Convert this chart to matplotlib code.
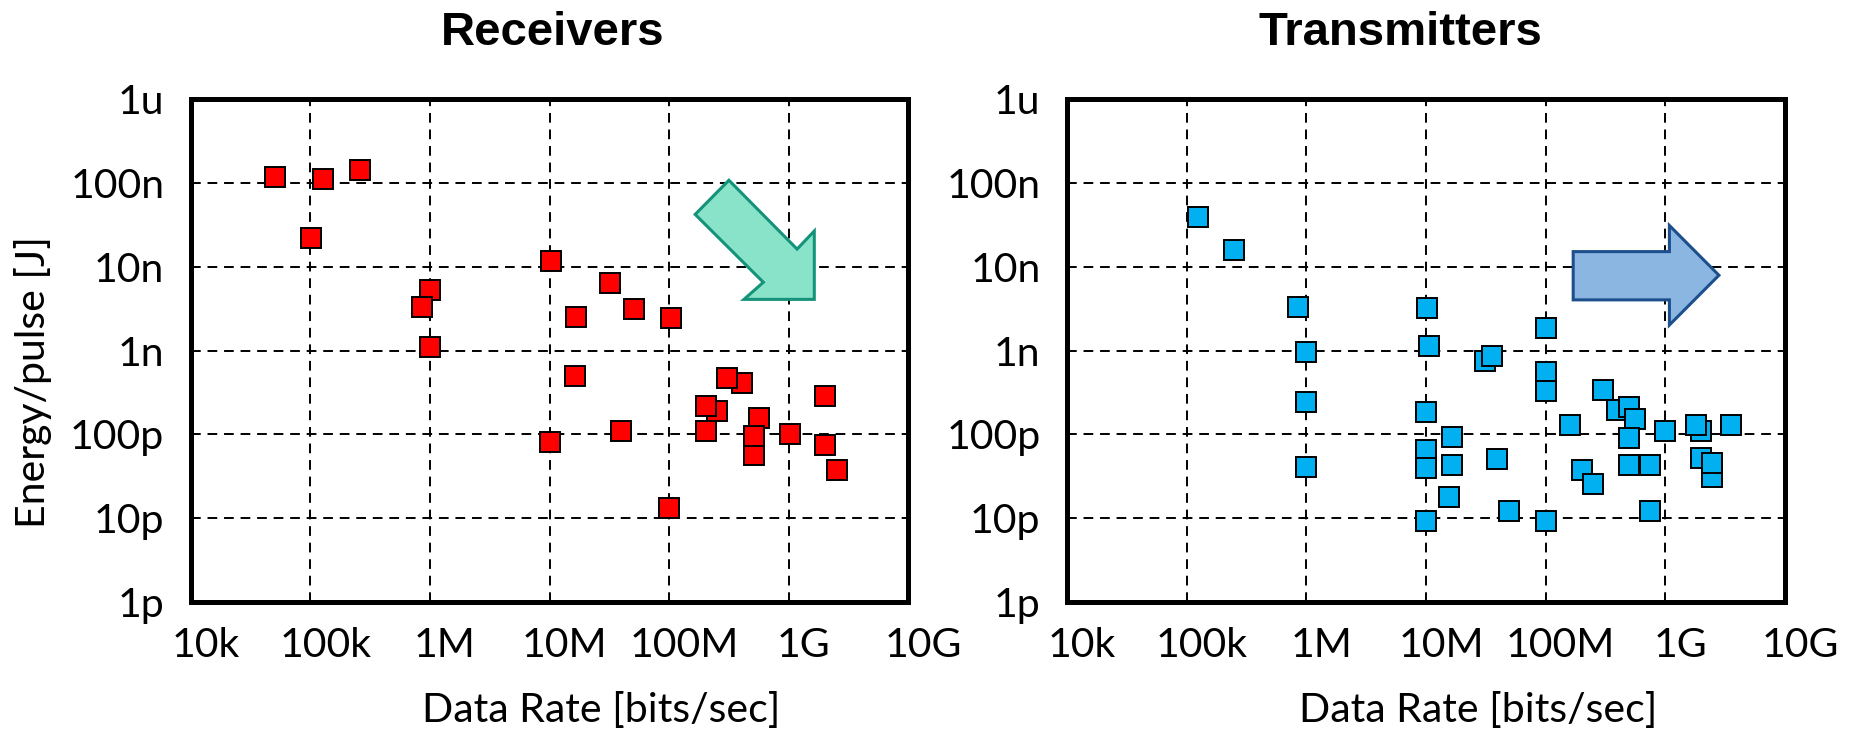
import matplotlib
matplotlib.use('Agg')
import matplotlib.pyplot as plt
from matplotlib.patches import Polygon
from matplotlib.ticker import NullLocator
from matplotlib.transforms import ScaledTranslation

plt.rcParams['font.family'] = ['Lato', 'DejaVu Sans']

# rate tick positions [bits/sec] and energy tick positions [J]
rate_ticks = [1e4, 1e5, 1e6, 1e7, 1e8, 1e9, 1e10]
rate_labels = ['10k', '100k', '1M', '10M', '100M', '1G', '10G']
energy_ticks = [1e-12, 1e-11, 1e-10, 1e-9, 1e-8, 1e-7, 1e-6]
energy_labels = ['1p', '10p', '100p', '1n', '10n', '100n', '1u']

# receivers: data rate [bits/sec], energy per pulse [J]
rx_rate = [50.7e3, 127e3, 262e3, 101e3,
           10.2e6, 1.0e6, 0.86e6, 1.0e6,
           31.9e6, 16.8e6, 50.7e6, 103e6,
           16.4e6, 10.0e6, 39.6e6, 100e6,
           408e6, 307e6, 252e6, 203e6, 203e6,
           565e6, 512e6, 512e6,
           1.02e9, 2.03e9, 2.03e9, 2.55e9]
rx_energy = [118e-9, 111e-9, 145e-9, 22e-9,
             11.6e-9, 5.3e-9, 3.35e-9, 1.1e-9,
             6.5e-9, 2.5e-9, 3.15e-9, 2.43e-9,
             505e-12, 81.7e-12, 111e-12, 13.2e-12,
             408e-12, 471e-12, 193e-12, 220e-12, 111e-12,
             155e-12, 57e-12, 95e-12,
             100e-12, 290e-12, 73.8e-12, 37.5e-12]

# transmitters: data rate [bits/sec], energy per pulse [J]
tx_rate = [124e3, 250e3, 855e3, 1.0e6, 1.0e6, 1.0e6,
           10.1e6, 10.5e6, 10e6, 10e6, 10e6, 10e6,
           16.5e6, 16.5e6, 15.5e6, 30.9e6, 35.6e6, 39.2e6, 49.7e6,
           100e6, 100e6, 100e6, 100e6, 159e6,
           299e6, 398e6, 498e6, 558e6, 498e6, 498e6,
           740e6, 740e6, 200e6, 250e6, 986e6,
           1.97e9, 1.79e9, 1.97e9, 2.47e9, 2.47e9, 3.55e9]
tx_energy = [39.6e-9, 16.1e-9, 3.35e-9, 0.96e-9, 246e-12, 40.5e-12,
             3.25e-9, 1.15e-9, 184e-12, 66e-12, 39.4e-12, 9.35e-12,
             92.5e-12, 43.6e-12, 17.8e-12, 760e-12, 857e-12, 51e-12, 12.3e-12,
             1.85e-9, 550e-12, 330e-12, 9.2e-12, 128e-12,
             343e-12, 194e-12, 213e-12, 154e-12, 91e-12, 43.4e-12,
             42.7e-12, 12.1e-12, 37.8e-12, 25.5e-12, 111e-12,
             109e-12, 131e-12, 52.6e-12, 30.9e-12, 45.8e-12, 131e-12]

fig = plt.figure(figsize=(18.54, 7.31), dpi=100)
W, H = 1854.0, 731.0
ax_rx = fig.add_axes([190.7 / W, 1 - 602 / H, 717.6 / W, 502.7 / H])
ax_tx = fig.add_axes([1067 / W, 1 - 602 / H, 718 / W, 502.7 / H])

# x tick labels sit a little right of their gridlines
label_shift = ScaledTranslation(0.15, 0, fig.dpi_scale_trans)


def setup(ax, title, title_x):
    ax.set_xscale('log')
    ax.set_yscale('log')
    ax.set_xlim(1e4, 1e10)
    ax.set_ylim(1e-12, 1e-6)
    ax.set_xticks(rate_ticks)
    ax.set_xticklabels(rate_labels)
    ax.set_yticks(energy_ticks)
    ax.set_yticklabels(energy_labels)
    ax.xaxis.set_minor_locator(NullLocator())
    ax.yaxis.set_minor_locator(NullLocator())
    ax.tick_params(axis='both', length=0, labelsize=29.5)
    ax.tick_params(axis='x', pad=18)
    ax.tick_params(axis='y', pad=19)
    for lab in ax.get_xticklabels():
        lab.set_transform(lab.get_transform() + label_shift)
    ax.grid(True, color='black', lw=1.4, linestyle=(0, (5, 3.5)))
    ax.set_axisbelow(True)
    for sp in ax.spines.values():
        sp.set_linewidth(3.6)
        sp.set_zorder(5)
    ax.text(title_x, 1.109, title, transform=ax.transAxes, ha='center',
            va='baseline', fontsize=34, fontweight='bold',
            family=['Liberation Sans', 'DejaVu Sans'])
    ax.text(0.572, -0.239, 'Data Rate [bits/sec]', transform=ax.transAxes,
            ha='center', va='baseline', fontsize=29.5)


setup(ax_rx, 'Receivers', 0.505)
setup(ax_tx, 'Transmitters', 0.464)

ax_rx.text(-0.22, 0.437, 'Energy/pulse [J]', transform=ax_rx.transAxes,
           rotation=90, ha='center', va='center', fontsize=29.5)

ax_rx.plot(rx_rate, rx_energy, ls='none', marker='s', ms=14,
           mfc='#FF0000', mec='black', mew=1.4, zorder=3)
ax_tx.plot(tx_rate, tx_energy, ls='none', marker='s', ms=14,
           mfc='#00B0F0', mec='black', mew=1.4, zorder=3)

# trend arrows (axes fraction)
rx_arrow = [(0.750, 0.839), (0.703, 0.771), (0.798, 0.636), (0.771, 0.602),
            (0.869, 0.602), (0.869, 0.738), (0.845, 0.702)]
ax_rx.add_patch(Polygon(rx_arrow, closed=True, transform=ax_rx.transAxes,
                        facecolor='#88E3C8', edgecolor='#15937A', lw=2.2,
                        zorder=4))

tx_arrow = [(0.705, 0.697), (0.839, 0.697), (0.839, 0.749), (0.908, 0.650),
            (0.839, 0.551), (0.839, 0.601), (0.705, 0.601)]
ax_tx.add_patch(Polygon(tx_arrow, closed=True, transform=ax_tx.transAxes,
                        facecolor='#8AB6E1', edgecolor='#1D4F8C', lw=2.2,
                        zorder=4))

fig.savefig('out.png', dpi=100)
